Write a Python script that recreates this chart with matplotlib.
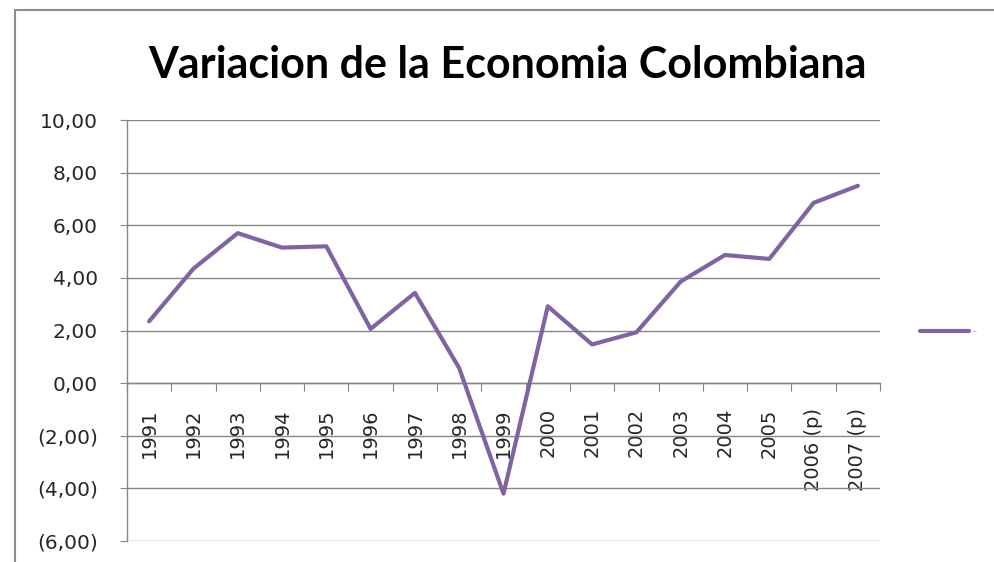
import matplotlib
matplotlib.use("Agg")
import matplotlib.pyplot as plt
import numpy as np
from matplotlib.lines import Line2D
from matplotlib.patches import Rectangle

years = ["1991", "1992", "1993", "1994", "1995", "1996", "1997", "1998", "1999",
         "2000", "2001", "2002", "2003", "2004", "2005", "2006 (p)", "2007 (p)"]
values = [2.35, 4.35, 5.70, 5.15, 5.20, 2.06, 3.43, 0.57, -4.20,
          2.92, 1.47, 1.93, 3.86, 4.87, 4.72, 6.85, 7.50]
yticks = [10, 8, 6, 4, 2, 0, -2, -4, -6]
ytick_labels = ["10,00", "8,00", "6,00", "4,00", "2,00", "0,00", "(2,00)", "(4,00)", "(6,00)"]
title = "Variacion de la Economia Colombiana"

line_color = "#8064A2"
grid_color = "#868686"
text_color = "#262626"

fig = plt.figure(figsize=(9.95, 5.62), dpi=100)
fig.patch.set_facecolor("white")
# outer chart frame
fig.add_artist(Rectangle((15 / 995, -0.1), 1.1, (562 - 10) / 562 + 0.1,
                         transform=fig.transFigure, fill=False,
                         edgecolor="#8c8c8c", linewidth=1.5))

ax = fig.add_axes([127 / 995, 21 / 562, (880 - 127) / 995, (541 - 120) / 562])
for s in ["top", "right"]:
    ax.spines[s].set_visible(False)
ax.spines["bottom"].set_position(("data", 0))
ax.spines["bottom"].set_color(grid_color)
ax.spines["left"].set_color(grid_color)
ax.spines["bottom"].set_linewidth(1.0)
ax.spines["left"].set_linewidth(1.0)

n = len(years)
x = np.arange(n)
ax.plot(x, values, color=line_color, linewidth=3.0, solid_capstyle="round",
        solid_joinstyle="round", zorder=3)

ax.set_xlim(-0.5, n - 0.5)
ax.set_ylim(-6, 10)

ax.set_yticks(yticks)
ax.set_yticklabels(ytick_labels, fontfamily="DejaVu Sans", fontsize=14.5,
                   color=text_color)
ax.tick_params(axis="y", direction="out", length=5, color=grid_color, pad=16)
ax.yaxis.grid(True, color=grid_color, linewidth=1.0)
ax.set_axisbelow(True)

ax.set_xticks(np.arange(n + 1) - 0.5)
ax.set_xticklabels([])
ax.set_xticks(x, minor=True)
ax.tick_params(axis="x", which="major", direction="out", length=6,
               color=grid_color)
ax.tick_params(axis="x", which="minor", length=0, pad=18)
ax.set_xticklabels(years, minor=True, rotation=90, fontfamily="DejaVu Sans",
                   fontsize=14, color=text_color, va="top", ha="center")

fig.text(0.51, 0.885, title, ha="center", va="center", fontfamily="Lato",
         fontweight="bold", fontsize=31, color="black")

handle = Line2D([], [], color=line_color, linewidth=3.0, solid_capstyle="round")
leg = fig.legend([handle], ["-"], loc="center left",
                 bbox_to_anchor=(0.915, 0.41), frameon=False,
                 handlelength=4.4, handletextpad=0.3,
                 prop={"family": "DejaVu Sans", "size": 8})
for t in leg.get_texts():
    t.set_color("#a0a0a0")

fig.savefig("out.png", dpi=100, facecolor="white")
